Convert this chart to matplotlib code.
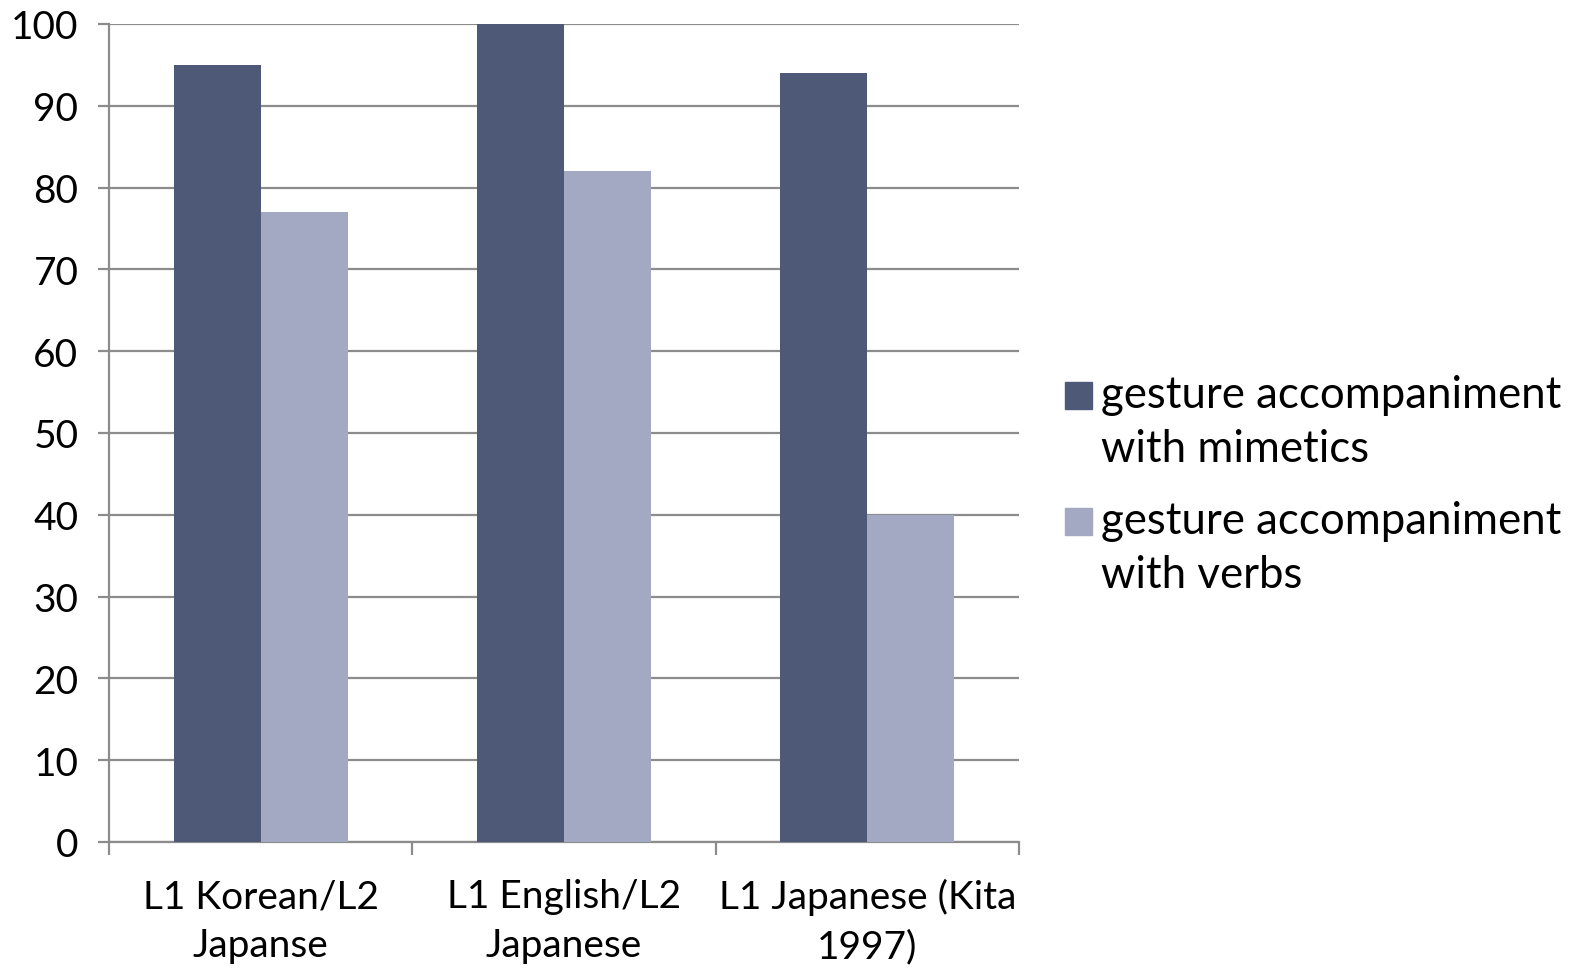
import numpy as np
import matplotlib
matplotlib.use("Agg")
import matplotlib.pyplot as plt
from matplotlib.patches import Rectangle

plt.rcParams['font.family'] = ['Lato', 'DejaVu Sans']

groups = ["L1 Korean/L2\nJapanse", "L1 English/L2\nJapanese", "L1 Japanese (Kita\n1997)"]
mimetics = [95, 100, 94]
verbs = [77, 82, 40]
series_names = ["gesture accompaniment\nwith mimetics", "gesture accompaniment\nwith verbs"]
yticks = [0, 10, 20, 30, 40, 50, 60, 70, 80, 90, 100]

dark = "#4e5877"
light = "#a3a8c3"
gray = "#8c8c8c"

W, H = 1579, 970
fig = plt.figure(figsize=(W / 100, H / 100), dpi=100)
ax = fig.add_axes([109 / W, 1 - 843 / H, (1019 - 109) / W, (843 - 25) / H])

x = np.arange(len(groups))
w = 0.287
ax.bar(x - w / 2, mimetics, w, color=dark, zorder=3)
ax.bar(x + w / 2, verbs, w, color=light, zorder=3)

ax.set_xlim(-0.5, len(groups) - 0.5)
ax.set_ylim(0, 100)
ax.set_yticks(yticks)
ax.yaxis.grid(True, color=gray, linewidth=1.6, zorder=0)
ax.set_axisbelow(True)

for s in ["top", "right"]:
    ax.spines[s].set_visible(False)
for s in ["left", "bottom"]:
    ax.spines[s].set_color(gray)
    ax.spines[s].set_linewidth(1.6)

ax.set_xticks(x)
ax.set_xticklabels(groups, fontsize=28, linespacing=1.45)
ax.set_xticks(np.arange(len(groups) + 1) - 0.5, minor=True)
ax.tick_params(axis="x", which="major", length=0, pad=26)
ax.tick_params(axis="x", which="minor", length=9, width=1.6, color=gray)
ax.tick_params(axis="y", length=8, width=1.6, color=gray, labelsize=28, pad=14)

# legend: square aligned with the first text line of each entry
colors = [dark, light]
for i, (name, c) in enumerate(zip(series_names, colors)):
    top = 383 + i * 126
    fig.patches.append(Rectangle((1065 / W, 1 - (top + 27) / H), 27 / W, 27 / H,
                                 transform=fig.transFigure, color=c))
    fig.text(1101 / W, 1 - (top - 8) / H, name, fontsize=31.5, va="top",
             ha="left", linespacing=1.4)

fig.savefig("out.png", dpi=100)
